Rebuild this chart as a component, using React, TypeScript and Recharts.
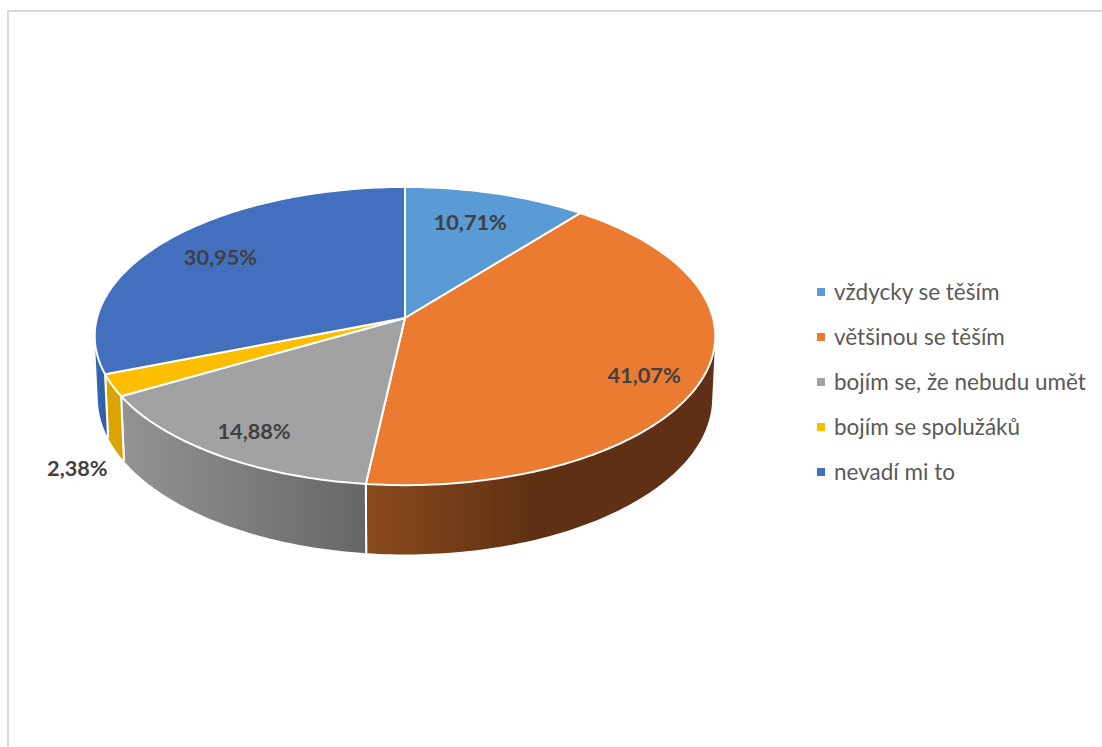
import { PieChart, Pie, Legend } from "recharts"

const categories = [
  "vždycky se těším",
  "většinou se těším",
  "bojím se, že nebudu umět",
  "bojím se spolužáků",
  "nevadí mi to",
]
const shares = [10.71, 41.07, 14.88, 2.38, 30.95]
const topColors = ["#5a9ad5", "#eb7b31", "#a2a2a2", "#fdbe00", "#4270bf"]
const wallColors = ["#3a6f9f", "url(#wallOrange)", "url(#wallGray)", "#d9a300", "url(#wallBlue)"]

// nudges from the default label spot, in px
const labelDx = [-5, 18, -14, -111, -3]
const labelDy = [0, 13, 13, 100, -2]

const data = categories.map((name, i) => ({ name, value: shares[i], fill: topColors[i] }))
const wallData = categories.map((name, i) => ({ name, value: shares[i], fill: wallColors[i] }))

const WIDTH = 1102
const HEIGHT = 747
const TILT = 0.477 // vertical squash of the disc
const PERSPECTIVE = 0.121 // far edge looks smaller than near edge
const DEPTH = 61
const BOTTOM_SX = 0.99
const BOTTOM_SY = 1.05

type Pt = { x: number; y: number }

// Project a point of the flat pie onto the tilted disc
function project(cx: number, cy: number, radius: number, angle: number, frac = 1): Pt {
  const rad = (angle * Math.PI) / 180
  const u = Math.cos(rad) * frac
  const v = Math.sin(rad) * frac
  const w = 1 + PERSPECTIVE * v
  return { x: cx + (radius * u) / w, y: cy - (radius * TILT * v) / w }
}

function arcAngles(start: number, end: number) {
  const steps = Math.max(2, Math.ceil(Math.abs(end - start)))
  const out: number[] = []
  for (let i = 0; i <= steps; i++) out.push(start + ((end - start) * i) / steps)
  return out
}

function TopSlice(props: any) {
  const { cx, cy, outerRadius, startAngle, endAngle, fill } = props
  const pts = arcAngles(startAngle, endAngle).map((a) => project(cx, cy, outerRadius, a))
  const d = `M${cx},${cy} ` + pts.map((p) => `L${p.x},${p.y}`).join(" ") + " Z"
  return <path d={d} fill={fill} stroke="#fff" strokeWidth={2} strokeLinejoin="round" />
}

function quadPath(pts: Pt[]) {
  // keep all quads wound the same way so the nonzero fill never cancels
  let area = 0
  pts.forEach((p, i) => {
    const q = pts[(i + 1) % pts.length]
    area += p.x * q.y - q.x * p.y
  })
  const ordered = area < 0 ? [...pts].reverse() : pts
  return ordered.map((p, i) => `${i ? "L" : "M"}${p.x},${p.y}`).join(" ") + " Z"
}

function WallSlice(props: any) {
  const { cx, cy, outerRadius, startAngle, endAngle, fill } = props
  const top = arcAngles(startAngle, endAngle).map((a) => project(cx, cy, outerRadius, a))
  const bottom = top.map((p) => ({
    x: cx + (p.x - cx) * BOTTOM_SX,
    y: cy + DEPTH + (p.y - cy) * BOTTOM_SY,
  }))
  const quads = top
    .slice(1)
    .map((p, i) => quadPath([top[i], p, bottom[i + 1], bottom[i]]))
    .join(" ")
  const last = top.length - 1
  const sides =
    `M${top[0].x},${top[0].y} L${bottom[0].x},${bottom[0].y} ` +
    `M${top[last].x},${top[last].y} L${bottom[last].x},${bottom[last].y}`
  return (
    <g>
      <path d={quads} fill={fill} stroke="none" />
      <path d={sides} fill="none" stroke="#fff" strokeWidth={2} />
    </g>
  )
}

function SliceLabel(props: any) {
  const { cx, cy, outerRadius, midAngle, index, value } = props
  const p = project(cx, cy, outerRadius, midAngle, 0.75)
  return (
    <text
      x={p.x + labelDx[index]}
      y={p.y + labelDy[index]}
      textAnchor="middle"
      dominantBaseline="central"
      fontFamily="Lato"
      fontWeight={700}
      fontSize={21.7}
      fill="#404040"
    >
      {value.toFixed(2).replace(".", ",") + "%"}
    </text>
  )
}

function LegendList() {
  return (
    <div style={{ fontFamily: "Lato", fontSize: 22.5, color: "#595959" }}>
      {categories.map((name, i) => (
        <div key={name} style={{ display: "flex", alignItems: "center", height: 45, whiteSpace: "nowrap" }}>
          <span
            style={{
              width: 8,
              height: 8,
              marginRight: 9,
              background: topColors[i],
              display: "inline-block",
            }}
          />
          {name}
        </div>
      ))}
    </div>
  )
}

export default function App() {
  return (
    <div style={{ position: "absolute", left: 0, top: 0, width: WIDTH, height: HEIGHT, background: "#fff", overflow: "hidden" }}>
      <div
        style={{
          position: "absolute",
          left: 7,
          top: 10,
          right: 0,
          bottom: 0,
          borderLeft: "2px solid #d9d9d9",
          borderTop: "2px solid #d9d9d9",
        }}
      />
      <PieChart width={WIDTH} height={HEIGHT} margin={{ top: 0, right: 0, bottom: 0, left: 0 }} style={{ position: "absolute" }}>
        <defs>
          <linearGradient id="wallOrange" gradientUnits="userSpaceOnUse" x1={366} y1={0} x2={535} y2={0}>
            <stop offset="0" stopColor="#8a4a1c" />
            <stop offset="1" stopColor="#5f3013" />
          </linearGradient>
          <linearGradient id="wallGray" gradientUnits="userSpaceOnUse" x1={125} y1={0} x2={366} y2={0}>
            <stop offset="0" stopColor="#939393" />
            <stop offset="1" stopColor="#666666" />
          </linearGradient>
          <linearGradient id="wallBlue" gradientUnits="userSpaceOnUse" x1={96} y1={0} x2={110} y2={0}>
            <stop offset="0" stopColor="#3566b4" />
            <stop offset="1" stopColor="#2f5aa0" />
          </linearGradient>
        </defs>
        <Pie
          data={wallData}
          dataKey="value"
          nameKey="name"
          cx={405}
          cy={318}
          outerRadius={308}
          startAngle={90}
          endAngle={-270}
          stroke="none"
          legendType="none"
          isAnimationActive={false}
          shape={WallSlice}
          inactiveShape={WallSlice}
        />
        <Pie
          data={data}
          dataKey="value"
          nameKey="name"
          cx={405}
          cy={318}
          outerRadius={308}
          startAngle={90}
          endAngle={-270}
          labelLine={false}
          label={SliceLabel}
          isAnimationActive={false}
          shape={TopSlice}
          inactiveShape={TopSlice}
        />
        <Legend
          layout="vertical"
          content={<LegendList />}
          wrapperStyle={{ left: 817, top: 269, width: 285, bottom: "auto", right: "auto" }}
        />
      </PieChart>
    </div>
  )
}
